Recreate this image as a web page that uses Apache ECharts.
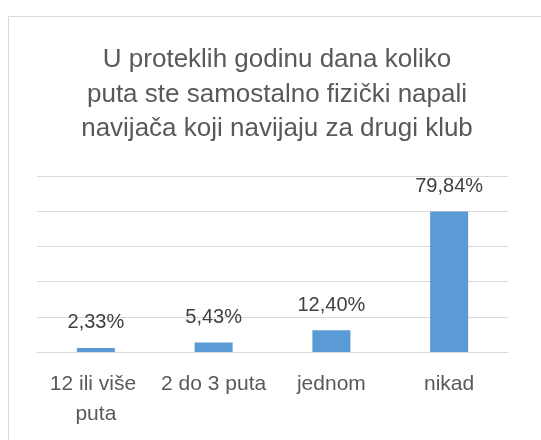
<!DOCTYPE html>
<html>
<head>
<meta charset="utf-8">
<script src="https://cdn.jsdelivr.net/npm/echarts@6/dist/echarts.min.js"></script>
<style>html,body{margin:0;padding:0;background:#fff;}#c{width:541px;height:440px;}</style>
</head>
<body>
<div id="c"></div>
<script>
const titleText = 'U proteklih godinu dana koliko\nputa ste samostalno fizički napali\nnavijača koji navijaju za drugi klub';
const categories = ['12 ili više puta', '2 do 3 puta', 'jednom', 'nikad'];
const values = [2.33, 5.43, 12.40, 79.84];
const yTicks = [0, 20, 40, 60, 80, 100];

const chart = echarts.init(document.getElementById('c'), null, {renderer: 'canvas'});
chart.setOption({
  animation: false,
  backgroundColor: '#fff',
  graphic: [{
    type: 'rect', silent: true,
    shape: {x: 8.5, y: 16.5, width: 600, height: 500},
    style: {fill: 'none', stroke: '#d9d9d9', lineWidth: 1}
  }],
  title: {
    text: titleText,
    left: 272, top: 38, textAlign: 'center',
    textStyle: {fontFamily: 'Liberation Sans', fontSize: 26, fontWeight: 'normal', color: '#595959', lineHeight: 34.3}
  },
  grid: {left: 37, right: 33, top: 176, bottom: 88},
  xAxis: {
    type: 'category', data: categories,
    axisLine: {show: true, lineStyle: {color: '#d9d9d9', width: 1}},
    axisTick: {show: false},
    axisLabel: {fontFamily: 'Liberation Sans', fontSize: 21, color: '#595959', margin: 17.5, lineHeight: 30,
      width: 112, overflow: 'break', interval: 0}
  },
  yAxis: {
    type: 'value', min: yTicks[0], max: yTicks[yTicks.length - 1], interval: yTicks[1] - yTicks[0],
    axisLabel: {show: false}, axisLine: {show: false}, axisTick: {show: false},
    splitLine: {lineStyle: {color: '#d9d9d9', width: 1}}
  },
  series: [{
    type: 'bar', data: values, barWidth: 38,
    itemStyle: {color: '#5b9bd5'},
    label: {show: true, position: 'top', distance: 15, fontFamily: 'Liberation Sans', fontSize: 20, color: '#404040',
      formatter: p => p.value.toFixed(2).replace('.', ',') + '%'}
  }]
});
</script>
</body>
</html>
